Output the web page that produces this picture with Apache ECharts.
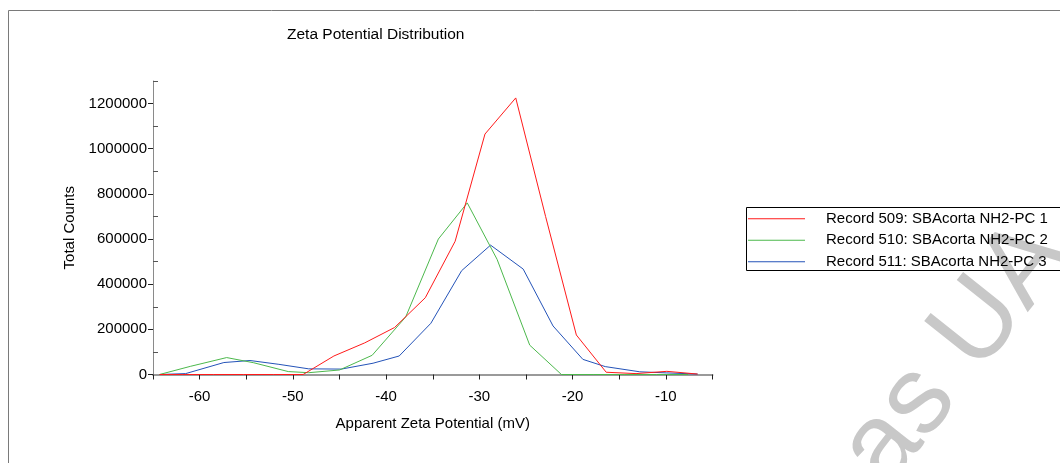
<!DOCTYPE html>
<html>
<head>
<meta charset="utf-8">
<title>Zeta Potential Distribution</title>
<script src="https://cdn.jsdelivr.net/npm/echarts@6.0.0/dist/echarts.min.js"></script>
<style>
  html, body { margin: 0; padding: 0; background: #fff; }
  #chart { width: 1060px; height: 463px; }
</style>
</head>
<body>
<div id="chart"></div>
<script>
// 数据：近似值
const seriesNames = [
    'Record 509: SBAcorta NH2-PC 1',
    'Record 510: SBAcorta NH2-PC 2',
    'Record 511: SBAcorta NH2-PC 3'
];

// Record 509 (红)
const zeta509 = [-64.3, -61.8, -58.5, -55.3, -52.1, -48.9, -45.6, -42.3, -39.1, -35.8, -32.6, -29.4, -26.1, -22.9, -19.6, -16.4, -13.2, -9.9, -6.6];
const counts509 = [0, 0, 0, 0, 0, 0, 82000, 140000, 208000, 340000, 590000, 1065000, 1225000, 700000, 175000, 10000, 4000, 14000, 2000];

// Record 510 (绿)
const zeta510 = [-64.3, -61.0, -57.1, -54.2, -50.5, -48.3, -45.0, -41.5, -37.9, -34.4, -31.3, -28.1, -24.6, -21.2, -17.8, -14.4, -11.0, -7.6];
const counts510 = [0, 36000, 75000, 52000, 13000, 8000, 20000, 85000, 255000, 600000, 760000, 510000, 130000, 0, 0, 0, 0, 0];

// Record 511 (蓝)
const zeta511 = [-64.3, -61.5, -57.4, -54.6, -51.5, -48.3, -44.8, -41.4, -38.6, -35.2, -31.9, -28.8, -25.3, -22.1, -18.9, -16.5, -12.8, -9.9, -6.6];
const counts511 = [0, 4000, 53000, 62000, 45000, 25000, 24000, 50000, 82000, 227000, 460000, 573000, 467000, 215000, 67000, 35000, 12000, 7000, 2000];

// 刻度
const xLabelValues = [-60, -50, -40, -30, -20, -10];
const yLabelValues = [0, 200000, 400000, 600000, 800000, 1000000, 1200000];
const yMinorValues = [100000, 300000, 500000, 700000, 900000, 1100000, 1300000];

const colors = ['#ff1a1a', '#4cb84c', '#2453b8'];
const FONT = '"Liberation Sans", Arial, sans-serif';

function pairs(xs, ys) {
    return xs.map((x, i) => [x, ys[i]]);
}

const chart = echarts.init(document.getElementById('chart'), null, { renderer: 'canvas' });

const option = {
    animation: false,
    backgroundColor: '#fff',
    textStyle: { fontFamily: FONT },
    title: {
        text: 'Zeta Potential Distribution',
        left: 287,
        top: 27,
        padding: 0,
        textStyle: { fontSize: 15.5, fontWeight: 'normal', color: '#000', fontFamily: FONT }
    },
    legend: {
        orient: 'vertical',
        left: 748,
        top: 208,
        padding: 0,
        itemGap: 0,
        itemWidth: 57,
        itemHeight: 1,
        icon: 'rect',
        data: seriesNames,
        textStyle: {
            fontSize: 15,
            color: '#000',
            fontFamily: FONT,
            lineHeight: 21.5,
            padding: [0, 0, 0, 16]
        }
    },
    grid: {
        left: 153,
        right: 347.5,
        top: 81,
        bottom: 88.5,
        outerBoundsMode: 'none'
    },
    xAxis: {
        type: 'value',
        min: -65,
        max: -5,
        interval: 5,
        name: 'Apparent Zeta Potential (mV)',
        nameLocation: 'middle',
        nameGap: 42,
        nameTextStyle: { fontSize: 15, color: '#000', fontFamily: FONT },
        axisLine: { show: true, onZero: false, lineStyle: { color: '#9a9a9a', width: 2 } },
        axisTick: { show: true, length: 5, lineStyle: { color: '#222' } },
        axisLabel: {
            margin: 15,
            fontSize: 15,
            color: '#000',
            customValues: xLabelValues
        },
        splitLine: { show: false }
    },
    yAxis: [{
        type: 'value',
        min: 0,
        max: 1300000,
        name: 'Total Counts',
        nameLocation: 'middle',
        nameGap: 75,
        nameTextStyle: { fontSize: 15, color: '#000', fontFamily: FONT },
        axisLine: { show: true, lineStyle: { color: '#8a8a8a', width: 1 } },
        axisTick: { show: true, length: 5, lineStyle: { color: '#222' }, customValues: yLabelValues },
        axisLabel: {
            margin: 6,
            fontSize: 15,
            color: '#000',
            customValues: yLabelValues,
            formatter: v => String(v)
        },
        splitLine: { show: false }
    }, {
        // 只用来画朝内的小刻度
        type: 'value',
        min: 0,
        max: 1300000,
        position: 'left',
        axisLine: { show: false },
        axisTick: { show: true, inside: true, length: 5, lineStyle: { color: '#555' }, customValues: yMinorValues },
        axisLabel: { show: false },
        splitLine: { show: false }
    }],
    series: [
        { name: seriesNames[0], data: pairs(zeta509, counts509) },
        { name: seriesNames[1], data: pairs(zeta510, counts510) },
        { name: seriesNames[2], data: pairs(zeta511, counts511) }
    ].map((s, i) => ({
        name: s.name,
        type: 'line',
        data: s.data,
        showSymbol: false,
        symbol: 'none',
        color: colors[i],
        lineStyle: { width: 1, color: colors[i] },
        z: 3 - i
    })),
    graphic: [
        // 外框
        {
            type: 'polyline',
            shape: { points: [[8.5, 463], [8.5, 10.5], [1060, 10.5]] },
            style: { stroke: '#7a7a7a', lineWidth: 1, fill: null },
            silent: true
        },
        // 图例框
        {
            type: 'rect',
            shape: { x: 746.5, y: 207.5, width: 330, height: 63 },
            style: { stroke: '#000', lineWidth: 1, fill: null },
            silent: true
        },
        // 水印
        {
            type: 'text',
            x: 829,
            y: 514,
            rotation: 0.9,
            silent: true,
            z: -1,
            style: {
                text: 'cas UA',
                fontSize: 110,
                fontFamily: FONT,
                fill: '#c8c8c8',
                align: 'left',
                verticalAlign: 'middle'
            }
        }
    ]
};

chart.setOption(option);
</script>
</body>
</html>
